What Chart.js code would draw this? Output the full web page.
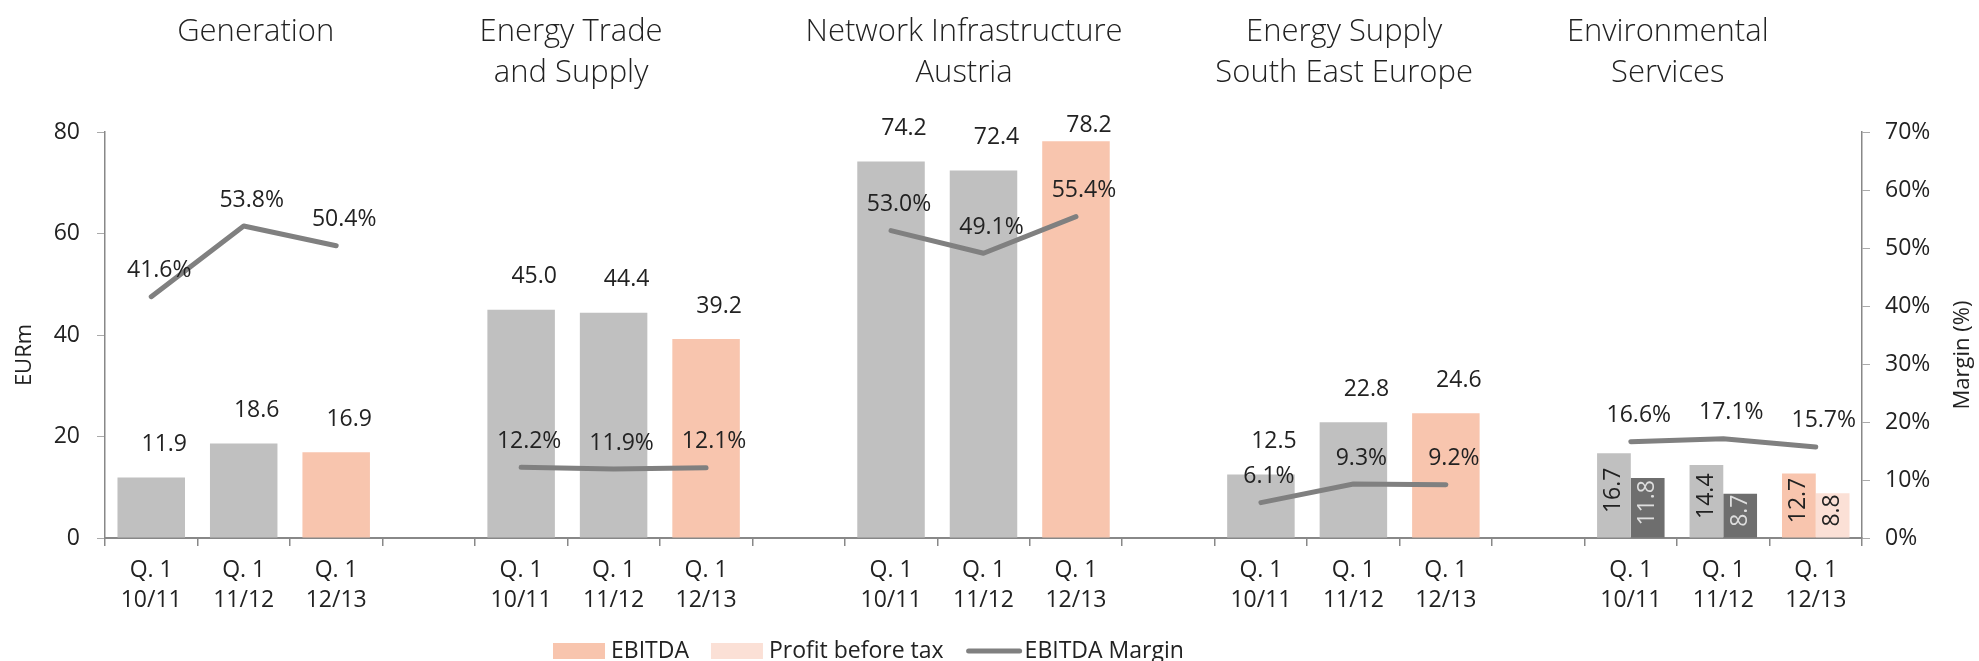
<!DOCTYPE html>
<html>
<head>
<meta charset="utf-8">
<title>EBITDA by segment</title>
<script src="https://cdn.jsdelivr.net/npm/chart.js@4"></script>
<style>
	body { margin: 0; background: #fff; }
</style>
</head>
<body>
<canvas id="segChart" width="1979" height="661"></canvas>
<script>
// segment headings, one entry per text line
const segments = [
	['Generation'],
	['Energy Trade', 'and Supply'],
	['Network Infrastructure', 'Austria'],
	['Energy Supply', 'South East Europe'],
	['Environmental', 'Services']
];
const quarters = [['Q. 1', '10/11'], ['Q. 1', '11/12'], ['Q. 1', '12/13']];

// EURm, three quarters per segment
const ebitda = [11.9, 18.6, 16.9,  45.0, 44.4, 39.2,  74.2, 72.4, 78.2,  12.5, 22.8, 24.6,  16.7, 14.4, 12.7];
// profit before tax, only shown for Environmental Services
const pbt    = [null, null, null,  null, null, null,  null, null, null,  null, null, null,  11.8, 8.7, 8.8];
// EBITDA margin, %
const margin = [41.6, 53.8, 50.4,  12.2, 11.9, 12.1,  53.0, 49.1, 55.4,  6.1, 9.3, 9.2,  16.6, 17.1, 15.7];

const legendNames = ['EBITDA', 'Profit before tax', 'EBITDA Margin'];

const GREY = '#c0c0c0', ORANGE = '#f8c5ae', DARK = '#6e6e6e', PINK = '#fbe0d6', LINE = '#808080';
const TXT = '#222';
const FAMILY = '"Open Sans", "DejaVu Sans", sans-serif';

// one empty category between segments
let labels = [], eb = [], pb = [], mg = [], qIdx = [];
segments.forEach(function(s, g) {
	if (g > 0) {
		labels.push(''); eb.push(null); pb.push(null); mg.push(null); qIdx.push(-1);
	}
	quarters.forEach(function(q, i) {
		let k = g * 3 + i;
		labels.push(q); eb.push(ebitda[k]); pb.push(pbt[k]); mg.push(margin[k]); qIdx.push(i);
	});
});

// headings sit a bit left of their group (category units)
const headX = [1.13, 4.54, 8.79, 12.9, 16.4];

const decorations = {
	id: 'decorations',
	afterDraw(chart) {
		const ctx = chart.ctx;
		const xs = chart.scales.x;
		ctx.save();
		ctx.fillStyle = TXT;
		ctx.textBaseline = 'middle';
		ctx.textAlign = 'center';

		// segment headings
		ctx.font = '300 31px ' + FAMILY;
		segments.forEach(function(lines, g) {
			let x = xs.getPixelForValue(headX[g]);
			lines.forEach(function(t, l) { ctx.fillText(t, x, 32 + l * 41); });
		});

		// axis titles, both reading upwards
		ctx.font = '22px ' + FAMILY;
		[['EURm', 25], ['Margin (%)', 1963]].forEach(function(a) {
			ctx.save();
			ctx.translate(a[1], 355);
			ctx.rotate(-Math.PI / 2);
			ctx.fillText(a[0], 0, 0);
			ctx.restore();
		});

		// legend
		ctx.font = '23px ' + FAMILY;
		ctx.textAlign = 'left';
		let x = 553, y = 651;
		legendNames.forEach(function(name, i) {
			if (i < 2) {
				ctx.fillStyle = i == 0 ? ORANGE : PINK;
				ctx.fillRect(x, y - 8, 52, 16);
				x += 58;
			} else {
				ctx.strokeStyle = LINE;
				ctx.lineWidth = 5;
				ctx.lineCap = 'round';
				ctx.beginPath(); ctx.moveTo(x + 3, y); ctx.lineTo(x + 54, y); ctx.stroke();
				x += 59;
			}
			ctx.fillStyle = TXT;
			ctx.fillText(name, x, y);
			x += ctx.measureText(name).width + 22;
		});
		ctx.restore();
	}
};

const valueLabels = {
	id: 'valueLabels',
	afterDatasetsDraw(chart) {
		const ctx = chart.ctx;
		ctx.save();
		ctx.font = '23px ' + FAMILY;
		ctx.textAlign = 'center';
		ctx.textBaseline = 'middle';
		[0, 1].forEach(function(d) {
			chart.getDatasetMeta(d).data.forEach(function(bar, i) {
				let v = chart.data.datasets[d].data[i];
				if (v == null) return;
				let txt = v.toFixed(1);
				if (pb[i] != null) {
					// paired narrow bars: rotated label inside
					ctx.save();
					ctx.translate(bar.x, (bar.y + bar.base) / 2 - 5);
					ctx.rotate(-Math.PI / 2);
					ctx.fillStyle = (d == 1 && qIdx[i] != 2) ? '#dedede' : TXT;
					ctx.fillText(txt, 0, 0);
					ctx.restore();
				} else {
					ctx.fillStyle = TXT;
					ctx.fillText(txt, bar.x + 13, Math.max(bar.y - 33, chart.chartArea.top - 7));
				}
			});
		});
		ctx.fillStyle = TXT;
		chart.getDatasetMeta(2).data.forEach(function(pt, i) {
			if (mg[i] == null) return;
			ctx.fillText(mg[i].toFixed(1) + '%', pt.x + 8, pt.y - 26);
		});
		ctx.restore();
	}
};

Chart.defaults.font.family = FAMILY;
Chart.defaults.font.size = 23;
Chart.defaults.color = TXT;

new Chart(document.getElementById('segChart'), {
	type: 'bar',
	data: {
		labels: labels,
		datasets: [
			{
				label: legendNames[0],
				data: eb,
				backgroundColor: qIdx.map(i => i == 2 ? ORANGE : GREY),
				yAxisID: 'y',
				skipNull: true,
				categoryPercentage: 0.73,
				barPercentage: 1.0,
				order: 1
			},
			{
				label: legendNames[1],
				data: pb,
				backgroundColor: qIdx.map(i => i == 2 ? PINK : DARK),
				yAxisID: 'y',
				skipNull: true,
				categoryPercentage: 0.73,
				barPercentage: 1.0,
				order: 1
			},
			{
				label: legendNames[2],
				type: 'line',
				data: mg,
				yAxisID: 'y1',
				borderColor: LINE,
				borderWidth: 5,
				borderCapStyle: 'round',
				borderJoinStyle: 'round',
				pointRadius: 0,
				tension: 0,
				spanGaps: false,
				order: 0
			}
		]
	},
	options: {
		responsive: false,
		devicePixelRatio: 1,
		animation: false,
		layout: { padding: { top: 132, left: 0, right: 0, bottom: 0 } },
		plugins: {
			legend: { display: false },
			tooltip: { enabled: false }
		},
		scales: {
			x: {
				grid: { offset: true, drawOnChartArea: false, drawTicks: true, tickLength: 8, color: '#888', lineWidth: 1.5 },
				border: { color: '#888', width: 2 },
				ticks: { autoSkip: false, maxRotation: 0, padding: 10, font: { size: 23, lineHeight: 1.3 } },
				afterFit(s) { s.height = 123; }
			},
			y: {
				position: 'left',
				min: 0, max: 80,
				ticks: { stepSize: 20, padding: 17 },
				grid: { drawOnChartArea: false, tickLength: 8, color: '#aaa' },
				border: { color: '#888', width: 1.5 },
				afterFit(s) { s.width = 105; }
			},
			y1: {
				position: 'right',
				min: 0, max: 70,
				ticks: { stepSize: 10, padding: 15, callback: v => v + '%' },
				grid: { drawOnChartArea: false, tickLength: 8, color: '#aaa' },
				border: { color: '#888', width: 1.5 },
				afterFit(s) { s.width = 117; }
			}
		}
	},
	plugins: [valueLabels, decorations]
});
</script>
</body>
</html>
